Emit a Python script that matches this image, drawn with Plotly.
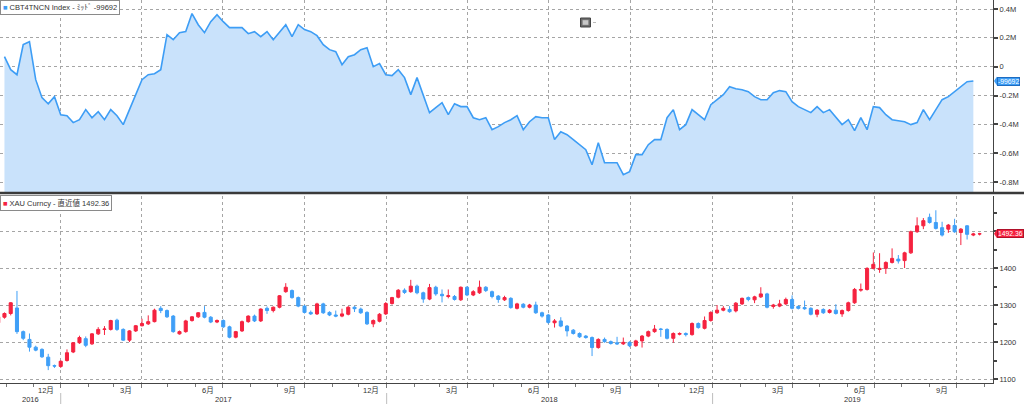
import plotly.graph_objects as go
import pandas as pd

# ---------------- data ----------------
# CBT4TNCN Index (mid), weekly, thousands of contracts
cbt_net_k = [
    69, -21, -56, 153, 173, -90, -215, -257, -208, -333, -340, -388, -368, -298, -354, -312,
    -368, -298, -340, -402, -298, -194, -90, -56,
    -49, -21, 222, 187, 236, 243, 368, 291, 236, 312, 361, 312, 271, 271, 271, 229, 243, 208,
    243, 187, 236, 291, 208,
    291, 257, 243, 215, 153, 118, 104, 14, 69, 83, 118, 132, 0, 21, -56, -62, -21, -76, -194,
    -76, -194, -319, -284,
    -250, -333, -257, -277, -277, -354, -368, -354, -437, -416, -388, -368, -340, -437, -382,
    -347, -354, -354, -506, -451, -472, -506, -541, -576,
    -680, -527, -666, -666, -666, -749, -728, -610, -610, -541, -506, -506, -354, -298, -437,
    -402, -298, -333, -368, -264, -229, -194, -139, -153, -160, -173, -208, -229, -229, -180,
    -166, -173, -243, -277, -298, -319, -277, -319, -298, -354, -402, -368, -444, -354, -437,
    -277, -284, -333, -368, -375, -382, -402, -388, -298, -368, -298, -229, -208, -173, -139,
    -104, -99.692,
]
cbt_start = "2016-10-30"

# XAU Curncy weekly OHLC
xau_open = [
    1252, 1267, 1277, 1292, 1228, 1207, 1186, 1180, 1159, 1136, 1134, 1150, 1173, 1198, 1209, 1195,
    1222, 1234, 1234, 1259, 1234, 1205, 1230, 1244, 1249, 1255, 1291, 1285, 1270, 1222, 1228, 1258,
    1268, 1280, 1267, 1254, 1258, 1241, 1213, 1230, 1255, 1270, 1257, 1291, 1285, 1294, 1336, 1339,
    1320, 1297, 1280, 1276, 1303, 1280, 1273, 1270, 1275, 1294, 1289, 1280, 1249, 1256, 1276, 1304,
    1321, 1340, 1336, 1351, 1333, 1316, 1348, 1329, 1323, 1323, 1314, 1348, 1327, 1333, 1348, 1336,
    1324, 1314, 1318, 1291, 1302, 1294, 1300, 1279, 1273, 1252, 1257, 1243, 1232, 1223, 1216, 1212,
    1185, 1207, 1201, 1198, 1195, 1199, 1190, 1203, 1216, 1228, 1235, 1234, 1210, 1221, 1223, 1220,
    1250, 1237, 1258, 1279, 1286, 1288, 1284, 1303, 1320, 1314, 1322, 1330, 1296, 1297, 1303, 1315,
    1296, 1293, 1291, 1275, 1288, 1280, 1286, 1276, 1285, 1306, 1340, 1342, 1399, 1396, 1399, 1415,
    1424, 1420, 1441, 1498, 1514, 1537, 1523, 1509, 1505, 1515, 1496, 1514, 1489, 1492,
]
xau_high = [
    1275, 1280, 1308, 1338, 1231, 1223, 1190, 1183, 1168, 1139, 1150, 1180, 1200, 1217, 1215, 1224,
    1240, 1243, 1260, 1263, 1237, 1232, 1246, 1263, 1272, 1290, 1297, 1288, 1273, 1231, 1260, 1270,
    1281, 1297, 1270, 1261, 1261, 1244, 1230, 1258, 1272, 1274, 1291, 1296, 1296, 1327, 1359, 1342,
    1323, 1300, 1285, 1306, 1306, 1283, 1285, 1290, 1297, 1297, 1293, 1283, 1261, 1278, 1308, 1322,
    1343, 1345, 1368, 1355, 1336, 1357, 1352, 1342, 1342, 1327, 1350, 1351, 1340, 1366, 1351, 1339,
    1327, 1325, 1321, 1306, 1305, 1303, 1309, 1282, 1276, 1262, 1267, 1246, 1235, 1226, 1219, 1215,
    1210, 1212, 1204, 1214, 1212, 1202, 1206, 1219, 1231, 1246, 1238, 1237, 1226, 1226, 1226, 1253,
    1253, 1269, 1283, 1300, 1297, 1297, 1308, 1320, 1323, 1325, 1348, 1333, 1303, 1314, 1320, 1326,
    1299, 1312, 1294, 1289, 1291, 1289, 1302, 1288, 1309, 1346, 1358, 1402, 1442, 1440, 1418, 1453,
    1435, 1444, 1501, 1537, 1535, 1547, 1556, 1525, 1519, 1533, 1508, 1516, 1495, 1495,
]
xau_low = [
    1248, 1263, 1272, 1222, 1205, 1174, 1175, 1157, 1124, 1130, 1130, 1147, 1170, 1195, 1186, 1192,
    1219, 1219, 1231, 1230, 1203, 1200, 1227, 1242, 1246, 1253, 1278, 1265, 1225, 1220, 1225, 1255,
    1265, 1264, 1251, 1251, 1238, 1210, 1210, 1227, 1252, 1254, 1254, 1276, 1280, 1291, 1333, 1317,
    1294, 1277, 1273, 1273, 1276, 1270, 1267, 1267, 1272, 1281, 1276, 1246, 1240, 1253, 1273, 1301,
    1318, 1330, 1333, 1329, 1306, 1313, 1325, 1307, 1318, 1312, 1311, 1324, 1324, 1330, 1335, 1318,
    1306, 1311, 1290, 1288, 1291, 1291, 1276, 1266, 1249, 1239, 1240, 1215, 1220, 1211, 1209, 1162,
    1182, 1198, 1193, 1192, 1192, 1186, 1187, 1185, 1213, 1225, 1214, 1207, 1198, 1218, 1215, 1217,
    1236, 1234, 1255, 1276, 1283, 1279, 1280, 1300, 1310, 1305, 1319, 1291, 1290, 1294, 1300, 1288,
    1288, 1287, 1272, 1267, 1276, 1277, 1274, 1268, 1282, 1303, 1336, 1339, 1396, 1387, 1384, 1412,
    1412, 1400, 1438, 1495, 1505, 1520, 1504, 1485, 1495, 1495, 1462, 1477, 1486, 1488,
]
xau_close = [
    1268, 1277, 1306, 1228, 1210, 1186, 1178, 1160, 1136, 1135, 1148, 1171, 1198, 1212, 1191, 1222,
    1234, 1235, 1258, 1234, 1205, 1230, 1244, 1250, 1255, 1286, 1285, 1268, 1228, 1228, 1257, 1268,
    1279, 1267, 1254, 1258, 1241, 1213, 1228, 1255, 1270, 1257, 1289, 1285, 1294, 1325, 1348, 1320,
    1297, 1280, 1276, 1303, 1279, 1273, 1270, 1276, 1294, 1290, 1279, 1249, 1258, 1275, 1304, 1320,
    1340, 1334, 1351, 1333, 1316, 1347, 1330, 1325, 1325, 1315, 1348, 1327, 1336, 1348, 1339, 1323,
    1315, 1320, 1293, 1303, 1294, 1300, 1279, 1270, 1253, 1257, 1243, 1230, 1223, 1214, 1212, 1185,
    1207, 1201, 1196, 1195, 1199, 1190, 1203, 1216, 1228, 1235, 1234, 1210, 1223, 1223, 1220, 1250,
    1239, 1258, 1280, 1286, 1291, 1282, 1305, 1318, 1315, 1322, 1330, 1294, 1300, 1303, 1315, 1291,
    1291, 1290, 1275, 1286, 1279, 1286, 1277, 1285, 1306, 1342, 1342, 1399, 1410, 1399, 1415, 1426,
    1419, 1441, 1498, 1514, 1528, 1523, 1507, 1489, 1516, 1498, 1505, 1491, 1492, 1492.36,
]
xau_start = "2016-10-23"

top_ticks = [-800000, -600000, -400000, -200000, 0, 200000, 400000]
top_tick_text = ["-0.8M", "-0.6M", "-0.4M", "-0.2M", "0", "0.2M", "0.4M"]
bot_ticks = [1100, 1200, 1300, 1400, 1500]
bot_tick_text = ["1100", "1200", "1300", "1400", ""]

month_label_dates = ["2016-12-15", "2017-03-15", "2017-06-15", "2017-09-15", "2017-12-15",
                     "2018-03-15", "2018-06-15", "2018-09-15", "2018-12-15", "2019-03-15",
                     "2019-06-15", "2019-09-15"]
month_label_text = ["12月", "3月", "6月", "9月", "12月", "3月", "6月", "9月", "12月", "3月", "6月", "9月"]
year_label_dates = ["2016-11-28", "2017-07-02", "2018-07-02", "2019-06-07"]
year_label_text = ["2016", "2017", "2018", "2019"]
year_starts = ["2017-01-01", "2018-01-01", "2019-01-01"]

X_RANGE = ["2016-10-25", "2019-11-11"]
Y1_RANGE = [-869300, 462400]
Y2_RANGE = [1089.2, 1594.6]

# ---------------- styling ----------------
BLUE = "#3d9df5"
FILL = "#c9e2fb"
RED = "#f5223f"
CBLUE = "#3f9ff7"
GRID = "#a5a5a5"
AXC = "#444444"
TXT = "#333333"
FONT = "Liberation Sans, Arial, Noto Sans CJK JP, sans-serif"

W, H = 1024, 404
ML, MR, MT, MB = 0, 31, 0, 21
PH = H - MT - MB  # plot height px

def py(pix):
    return 1 - (pix - MT) / PH

def px(pix):
    return (pix - ML) / (W - ML - MR)

cbt_vals = [v * 1000 for v in cbt_net_k]
cbt_dates = pd.date_range(cbt_start, periods=len(cbt_vals), freq="7D")
xau_dates = pd.date_range(xau_start, periods=len(xau_close), freq="7D")
quarters = pd.date_range("2017-01-01", "2019-10-01", freq="QS")
months = pd.date_range("2016-11-01", "2019-11-01", freq="MS")

fig = go.Figure()
fig.add_trace(go.Scatter(x=cbt_dates, y=[Y1_RANGE[0]] * len(cbt_vals), mode="lines",
                         line=dict(width=0, color=FILL), hoverinfo="skip", showlegend=False,
                         xaxis="x", yaxis="y"))
fig.add_trace(go.Scatter(x=cbt_dates, y=cbt_vals, mode="lines", fill="tonexty", fillcolor=FILL,
                         line=dict(color=BLUE, width=1.6), showlegend=False,
                         xaxis="x", yaxis="y", name="CBT4TNCN Index"))
fig.add_trace(go.Candlestick(x=xau_dates, open=xau_open, high=xau_high, low=xau_low,
                             close=xau_close, xaxis="x2", yaxis="y2", whiskerwidth=0,
                             increasing=dict(line=dict(color=RED, width=1), fillcolor=RED),
                             decreasing=dict(line=dict(color=CBLUE, width=1), fillcolor=CBLUE),
                             showlegend=False, name="XAU Curncy"))

xcommon = dict(type="date", range=X_RANGE, tickmode="array", tickvals=quarters,
               showticklabels=False, showgrid=True, gridcolor=GRID, griddash="dot",
               gridwidth=1, zeroline=False, automargin=False)
ycommon = dict(side="right", showgrid=True, gridcolor=GRID, griddash="dot", gridwidth=1,
               zeroline=False, showline=True, linecolor=AXC, linewidth=1, ticks="outside",
               ticklen=4, tickwidth=1.5, tickcolor=AXC, automargin=False,
               tickfont=dict(family=FONT, size=7.5, color=TXT), fixedrange=True)

fig.update_layout(
    width=W, height=H, margin=dict(l=ML, r=MR, t=MT, b=MB),
    paper_bgcolor="white", plot_bgcolor="white", showlegend=False,
    font=dict(family=FONT, size=7.5, color=TXT),
    xaxis=dict(domain=[0, 1], anchor="y", ticks="", showline=False, **xcommon),
    yaxis=dict(domain=[py(192), 1], anchor="x", range=Y1_RANGE, tickmode="array",
               tickvals=top_ticks, ticktext=top_tick_text, **ycommon),
    xaxis2=dict(domain=[0, 1], anchor="y2", ticks="outside", ticklen=4, tickcolor="#777",
                showline=True, linecolor=AXC, linewidth=1, rangeslider=dict(visible=False),
                minor=dict(tickmode="array", tickvals=months, ticks="outside", ticklen=3,
                           tickcolor="#777", showgrid=False),
                **xcommon),
    yaxis2=dict(domain=[0, py(196)], anchor="x2", range=Y2_RANGE, tickmode="array",
                tickvals=bot_ticks, ticktext=bot_tick_text,
                minor=dict(dtick=50, tick0=1100, ticks="outside", ticklen=3, tickcolor=AXC,
                           showgrid=False),
                **ycommon),
)

shapes = []
annos = []
# separator between panels
shapes.append(dict(type="line", xref="paper", yref="paper", x0=0, x1=W / (W - MR),
                   y0=py(193), y1=py(193), line=dict(color="#3a3a3a", width=2.5)))
# year separators in the label row
for d in year_starts:
    shapes.append(dict(type="line", xref="x2", yref="paper", x0=d, x1=d, y0=py(393), y1=py(404),
                       line=dict(color="#bdbdbd", width=1)))
# small chart-type icon
shapes.append(dict(type="rect", xref="paper", yref="paper", x0=px(580.5), x1=px(590.5),
                   y0=py(27), y1=py(18), fillcolor="#6a6a6a", line=dict(color="#444", width=1)))
shapes.append(dict(type="rect", xref="paper", yref="paper", x0=px(582.5), x1=px(588.5),
                   y0=py(25), y1=py(20), fillcolor="#c8c8c8", line=dict(color="#888", width=0.5)))
shapes.append(dict(type="line", xref="paper", yref="paper", x0=px(593), x1=px(596),
                   y0=py(22.5), y1=py(22.5), line=dict(color="#bbb", width=1)))

# last-value tags
last_top = cbt_vals[-1]
last_bot = xau_close[-1]
for val, yref, col, bcol, txt in [
    (last_top, "y", BLUE, "#1e6cc0", f"{int(round(last_top))}"),
    (last_bot, "y2", RED, "#b0102a", f"{last_bot:.2f}"),
]:
    shapes.append(dict(type="path", xref="paper", yref=yref, xsizemode="pixel",
                       ysizemode="pixel", xanchor=1, yanchor=val,
                       path="M 1,0 L 4,4.5 L 4,-4.5 Z", fillcolor=col, line=dict(width=0)))
    annos.append(dict(xref="paper", yref=yref, x=1, y=val, xanchor="left", yanchor="middle",
                      xshift=4, text=txt, showarrow=False, bgcolor=col, bordercolor=bcol,
                      borderwidth=1, borderpad=0,
                      font=dict(family=FONT, size=6.8, color="white")))

# legend boxes
annos.append(dict(xref="paper", yref="paper", x=0, y=1, xanchor="left", yanchor="top",
                  text=f"<span style='color:{BLUE}'>■</span> CBT4TNCN Index - ﾐｯﾄﾞ -99692",
                  showarrow=False, bgcolor="white", bordercolor="#8a8a8a", borderwidth=1,
                  borderpad=2, font=dict(family=FONT, size=7.5, color=TXT)))
annos.append(dict(xref="paper", yref="paper", x=0, y=py(195), xanchor="left", yanchor="top",
                  text=f"<span style='color:{RED}'>■</span> XAU Curncy - 直近値 1492.36",
                  showarrow=False, bgcolor="white", bordercolor="#8a8a8a", borderwidth=1,
                  borderpad=2, font=dict(family=FONT, size=7.5, color=TXT)))

# month and year labels
for d, t in zip(month_label_dates, month_label_text):
    annos.append(dict(xref="x2", yref="paper", x=d, y=py(390.5), xanchor="center",
                      yanchor="middle", text=t, showarrow=False,
                      font=dict(family=FONT, size=7.5, color=TXT)))
for d, t in zip(year_label_dates, year_label_text):
    annos.append(dict(xref="x2", yref="paper", x=d, y=py(399.5), xanchor="center",
                      yanchor="middle", text=t, showarrow=False,
                      font=dict(family=FONT, size=7.5, color=TXT)))

fig.update_layout(shapes=shapes, annotations=annos)
fig.write_html("out.html")
